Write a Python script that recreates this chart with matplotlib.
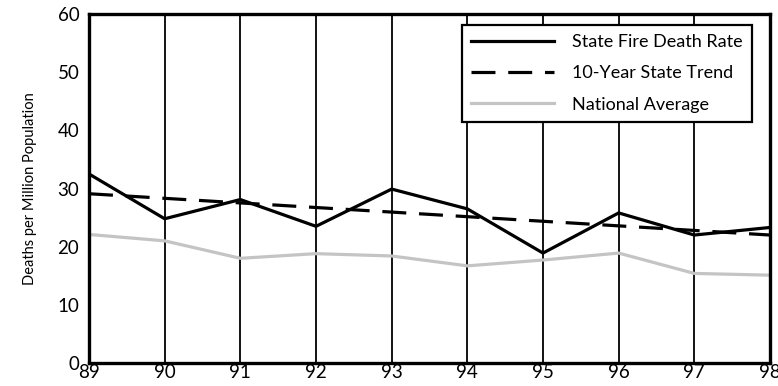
import matplotlib
matplotlib.use("Agg")
import matplotlib.pyplot as plt

plt.rcParams["font.family"] = ["Lato", "DejaVu Sans"]

# 年份及数据
years = [89, 90, 91, 92, 93, 94, 95, 96, 97, 98]
state_rate = [32.5, 24.8, 28.1, 23.5, 29.9, 26.5, 18.9, 25.8, 22.0, 23.3]
national_avg = [22.1, 21.0, 18.0, 18.8, 18.4, 16.7, 17.7, 18.9, 15.4, 15.1]
trend_years = [89, 98]
state_trend = [29.1, 22.0]
tick_labels = ["89", "90", "91", "92", "93", "94", "95", "96", "97", "98"]

fig = plt.figure(figsize=(7.78, 3.86), dpi=100)
ax = fig.add_axes([0.1144, 0.0596, 0.8753, 0.9041])

# 竖向网格线
for x in years:
    ax.axvline(x, color="black", lw=1.3, zorder=1)

ax.plot(years, state_rate, color="black", lw=2.3, label="State Fire Death Rate", zorder=3)
ax.plot(trend_years, state_trend, color="black", lw=2.3, dashes=(7.5, 4),
        label="10-Year State Trend", zorder=3)
ax.plot(years, national_avg, color="#c4c4c4", lw=2.3, label="National Average", zorder=2)

ax.set_xlim(89, 98)
ax.set_ylim(0, 60)
ax.set_xticks(years)
ax.set_xticklabels(tick_labels)
ax.set_yticks(range(0, 61, 10))
ax.tick_params(length=0, labelsize=13.5, pad=7)
ax.tick_params(axis="x", pad=1)
ax.set_ylabel("Deaths per Million Population", fontsize=10.5, labelpad=15)

for side in ["left", "bottom", "top", "right"]:
    ax.spines[side].set_linewidth(2.4)

leg = ax.legend(loc="upper right", bbox_to_anchor=(0.9666, 0.9352),
                bbox_transform=fig.transFigure, fontsize=13, frameon=True,
                fancybox=False, edgecolor="black", framealpha=1,
                handlelength=4.6, handletextpad=1.0, labelspacing=0.85,
                borderpad=0.5, borderaxespad=0)
leg.get_frame().set_linewidth(1.6)
leg.set_zorder(5)

fig.savefig("out.png", dpi=100)
